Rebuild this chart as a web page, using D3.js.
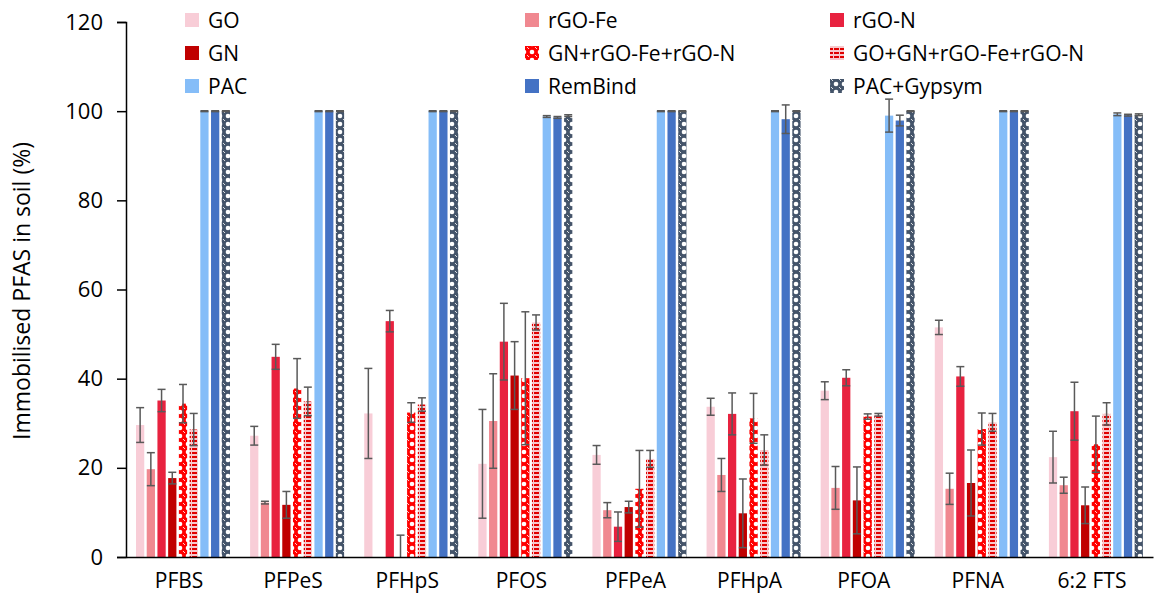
<!DOCTYPE html>
<html>
<head>
<meta charset="utf-8">
<script src="https://cdn.jsdelivr.net/npm/d3@7"></script>
<style>
  body { margin: 0; background: #fff; }
  text { font-family: "Open Sans", "Noto Sans", sans-serif; fill: #000; }
</style>
</head>
<body>
<svg id="chart" width="1162" height="609"></svg>
<script>
// data
var categories = ["PFBS", "PFPeS", "PFHpS", "PFOS", "PFPeA", "PFHpA", "PFOA", "PFNA", "6:2 FTS"]
var series = ["GO", "rGO-Fe", "rGO-N", "GN", "GN+rGO-Fe+rGO-N", "GO+GN+rGO-Fe+rGO-N", "PAC", "RemBind", "PAC+Gypsym"]

var GO       = [29.6, 27.2, 32.2, 20.9, 22.9, 33.7, 37.3, 51.5, 22.4]
var GO_err   = [3.9, 2.1, 10.1, 12.2, 2.1, 1.9, 2.0, 1.6, 5.8]
var rGOFe    = [19.7, 12.2, 0, 30.5, 10.5, 18.4, 15.5, 15.3, 16.1]
var rGOFe_err= [3.7, 0.3, 0, 10.6, 1.7, 3.7, 4.8, 3.5, 1.8]
var rGON     = [35.1, 44.9, 52.9, 48.3, 6.8, 32.1, 40.2, 40.5, 32.7]
var rGON_err = [2.5, 2.8, 2.4, 8.6, 3.3, 4.7, 1.8, 2.2, 6.5]
var GN       = [17.7, 11.7, 0, 40.7, 11.2, 9.8, 12.7, 16.6, 11.6]
var GN_err   = [1.3, 3.0, 4.9, 7.6, 1.3, 7.7, 7.5, 7.4, 4.1]
var mix3     = [34.4, 37.8, 32.4, 40.1, 15.3, 31.1, 31.5, 28.7, 25.3]
var mix3_err = [4.3, 6.7, 2.2, 14.9, 8.6, 5.6, 0.6, 3.6, 6.3]
var mix4     = [28.6, 34.9, 34.2, 52.6, 22.0, 24.0, 31.9, 30.2, 32.1]
var mix4_err = [3.6, 3.2, 1.5, 1.7, 1.9, 3.4, 0.3, 2.0, 2.5]
var PAC      = [100, 100, 100, 98.8, 100, 100, 99.0, 100, 99.3]
var PAC_err  = [0.1, 0.1, 0.1, 0.2, 0.1, 0.1, 3.7, 0.1, 0.3]
var RemBind  = [100, 100, 100, 98.6, 100, 98.2, 97.9, 100, 99.1]
var Rem_err  = [0.1, 0.1, 0.1, 0.2, 0.1, 3.2, 1.2, 0.1, 0.2]
var PACG     = [100, 100, 100, 99.0, 100, 100, 100, 100, 99.2]
var PACG_err = [0.1, 0.1, 0.1, 0.2, 0.1, 0.1, 0.1, 0.1, 0.2]

var yTicks = [0, 20, 40, 60, 80, 100, 120]

var values = [GO, rGOFe, rGON, GN, mix3, mix4, PAC, RemBind, PACG]
var errors = [GO_err, rGOFe_err, rGON_err, GN_err, mix3_err, mix4_err, PAC_err, Rem_err, PACG_err]

var svg = d3.select("#chart")
var defs = svg.append("defs")

// patterns
var p1 = defs.append("pattern").attr("id", "pMix3").attr("patternUnits", "userSpaceOnUse")
  .attr("width", 8).attr("height", 8)
p1.append("rect").attr("width", 8).attr("height", 8).attr("fill", "#ff0000")
p1.append("circle").attr("cx", 4).attr("cy", 4).attr("r", 2.3).attr("fill", "#fff")
p1.append("circle").attr("cx", 0).attr("cy", 0).attr("r", 1.1).attr("fill", "#fff")
p1.append("circle").attr("cx", 8).attr("cy", 8).attr("r", 1.1).attr("fill", "#fff")

var p2 = defs.append("pattern").attr("id", "pMix4").attr("patternUnits", "userSpaceOnUse")
  .attr("width", 6).attr("height", 4)
p2.append("rect").attr("width", 6).attr("height", 4).attr("fill", "#f7c9cc")
p2.append("rect").attr("width", 5).attr("height", 2).attr("fill", "#e00000")

var p3 = defs.append("pattern").attr("id", "pPACG").attr("patternUnits", "userSpaceOnUse")
  .attr("width", 8).attr("height", 8)
p3.append("rect").attr("width", 8).attr("height", 8).attr("fill", "#44546a")
p3.append("circle").attr("cx", 4).attr("cy", 4).attr("r", 2.3).attr("fill", "#fff")
p3.append("circle").attr("cx", 0).attr("cy", 0).attr("r", 1.1).attr("fill", "#fff")
p3.append("circle").attr("cx", 8).attr("cy", 8).attr("r", 1.1).attr("fill", "#fff")

var fills = ["#f8cdd7", "#f08890", "#e8223f", "#c00000", "url(#pMix3)", "url(#pMix4)", "#85bdf8", "#4472c4", "url(#pPACG)"]

// scales
var x0 = d3.scaleBand().domain(categories).range([126, 1153])
var x1 = d3.scaleBand().domain(series).range([10, 104]).paddingInner(0.23)
var y = d3.scaleLinear().domain([0, 120]).range([557, 22])

// bars
series.forEach(function(s, si) {
  var g = svg.append("g")
  g.selectAll("rect").data(categories).enter().append("rect")
    .attr("x", function(c) { return x0(c) + x1(s) })
    .attr("y", function(c, i) { return y(values[si][i]) })
    .attr("width", x1.bandwidth())
    .attr("height", function(c, i) { return y(0) - y(values[si][i]) })
    .attr("fill", fills[si])
})

// error bars
series.forEach(function(s, si) {
  categories.forEach(function(c, i) {
    var v = values[si][i], e = errors[si][i]
    if (e <= 0) return
    var cx = x0(c) + x1(s) + x1.bandwidth() / 2
    var top = y(v + e), bot = y(Math.max(0, v - e))
    var g = svg.append("g").attr("stroke", "#595959").attr("stroke-width", 1.5)
    g.append("line").attr("x1", cx).attr("x2", cx).attr("y1", top).attr("y2", bot)
    g.append("line").attr("x1", cx - 4).attr("x2", cx + 4).attr("y1", top).attr("y2", top)
    if (v - e > 0) g.append("line").attr("x1", cx - 4).attr("x2", cx + 4).attr("y1", bot).attr("y2", bot)
  })
})

// axes
var yAxis = svg.append("g").attr("transform", "translate(126,0)")
  .call(d3.axisLeft(y).tickValues(yTicks).tickSize(9).tickPadding(14))
yAxis.select(".domain").attr("stroke", "#000").attr("stroke-width", 1.5)
yAxis.selectAll(".tick line").attr("stroke", "#000").attr("stroke-width", 1.5)
yAxis.selectAll("text").style("font-size", "22px").attr("fill", "#000")

var xAxis = svg.append("g").attr("transform", "translate(0,557)")
  .call(d3.axisBottom(x0).tickSize(0).tickPadding(16))
xAxis.select(".domain").attr("stroke", "#000").attr("stroke-width", 1.5)
xAxis.selectAll("text").style("font-size", "21px").attr("fill", "#000")
  .attr("dx", -4)

svg.append("text")
  .attr("transform", "translate(30,291) rotate(-90)")
  .attr("text-anchor", "middle")
  .style("font-size", "23px")
  .text("Immobilised PFAS in soil (%)")

// legend
var legX = [185, 525, 830]
var legY = [20, 53, 86]
series.forEach(function(s, si) {
  var lx = legX[si % 3], ly = legY[Math.floor(si / 3)]
  svg.append("rect").attr("x", lx).attr("y", ly - 7).attr("width", 14).attr("height", 14).attr("fill", fills[si])
  svg.append("text").attr("x", lx + 23).attr("y", ly).attr("dominant-baseline", "central")
    .style("font-size", "21px").text(s)
})
</script>
</body>
</html>
